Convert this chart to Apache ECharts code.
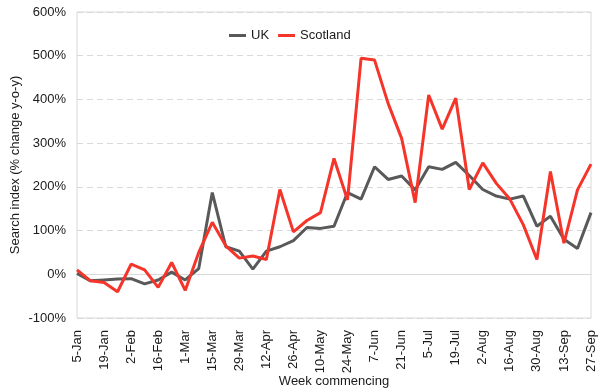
<!DOCTYPE html>
<html>
<head>
<meta charset="utf-8">
<script src="https://cdn.jsdelivr.net/npm/echarts@6/dist/echarts.min.js"></script>
<style>
html,body{margin:0;padding:0;background:#fff;}
#chart{width:600px;height:392px;}
</style>
</head>
<body>
<div id="chart"></div>
<script>
var weeks = ['5-Jan','12-Jan','19-Jan','26-Jan','2-Feb','9-Feb','16-Feb','23-Feb','1-Mar','8-Mar','15-Mar','22-Mar','29-Mar','5-Apr','12-Apr','19-Apr','26-Apr','3-May','10-May','17-May','24-May','31-May','7-Jun','14-Jun','21-Jun','28-Jun','5-Jul','12-Jul','19-Jul','26-Jul','2-Aug','9-Aug','16-Aug','23-Aug','30-Aug','6-Sep','13-Sep','20-Sep','27-Sep'];
var ukValues = [2,-15,-13,-11,-10,-22,-13,5,-13,13,187,63,53,12,53,63,77,107,105,110,187,172,246,217,225,193,246,240,256,226,194,179,172,179,110,133,80,59,141];
var scotlandValues = [10,-15,-19,-40,23,10,-30,27,-37,50,119,65,37,42,34,194,97,123,141,265,170,494,490,391,311,164,410,332,403,194,255,208,172,113,34,235,71,193,252];
var yTicks = {min: -100, max: 600, interval: 100};

var chart = echarts.init(document.getElementById('chart'));
var textColor = '#1a1a1a';
var font = 'Liberation Sans, Arial, sans-serif';
chart.setOption({
  animation: false,
  backgroundColor: '#fff',
  textStyle: {fontFamily: font, color: textColor},
  grid: {left: 77, right: 9, top: 12, bottom: 74, show: true, borderColor: '#d9d9d9', borderWidth: 1, containLabel: false, outerBoundsMode: 'none'},
  legend: {
    data: ['UK', 'Scotland'],
    left: 229, top: 29,
    icon: 'rect', itemWidth: 17, itemHeight: 3, itemGap: 9, padding: 0,
    textStyle: {fontSize: 13, color: textColor, fontFamily: font}
  },
  xAxis: [{
    type: 'category',
    data: weeks,
    boundaryGap: false,
    name: 'Week commencing',
    nameLocation: 'middle',
    nameGap: 57,
    nameMoveOverlap: false,
    nameTextStyle: {fontSize: 13, color: textColor, fontFamily: font},
    axisLine: {show: false, onZero: false},
    axisTick: {show: false},
    splitLine: {show: false},
    axisLabel: {interval: 1, rotate: 90, fontSize: 13, color: textColor, margin: 12, fontFamily: font}
  }, {
    type: 'category',
    data: weeks,
    boundaryGap: false,
    position: 'bottom',
    axisLine: {show: true, onZero: true, lineStyle: {color: '#d9d9d9', width: 1}},
    axisTick: {show: false},
    axisLabel: {show: false},
    splitLine: {show: false}
  }],
  yAxis: {
    type: 'value',
    min: yTicks.min, max: yTicks.max, interval: yTicks.interval,
    name: 'Search index (% change y-o-y)',
    nameLocation: 'middle',
    nameGap: 55,
    nameMoveOverlap: false,
    nameTextStyle: {fontSize: 13, color: textColor, fontFamily: font},
    axisLine: {show: false},
    axisTick: {show: false},
    axisLabel: {formatter: '{value}%', fontSize: 13, color: textColor, margin: 11, fontFamily: font},
    splitLine: {show: true, lineStyle: {color: '#d9d9d9', type: [6, 4], width: 1}}
  },
  series: [{
    name: 'UK', type: 'line', data: ukValues,
    symbol: 'none', color: '#595959',
    lineStyle: {width: 3, color: '#595959'}
  }, {
    name: 'Scotland', type: 'line', data: scotlandValues,
    symbol: 'none', color: '#f5342a',
    lineStyle: {width: 3, color: '#f5342a'}
  }]
});
</script>
</body>
</html>
